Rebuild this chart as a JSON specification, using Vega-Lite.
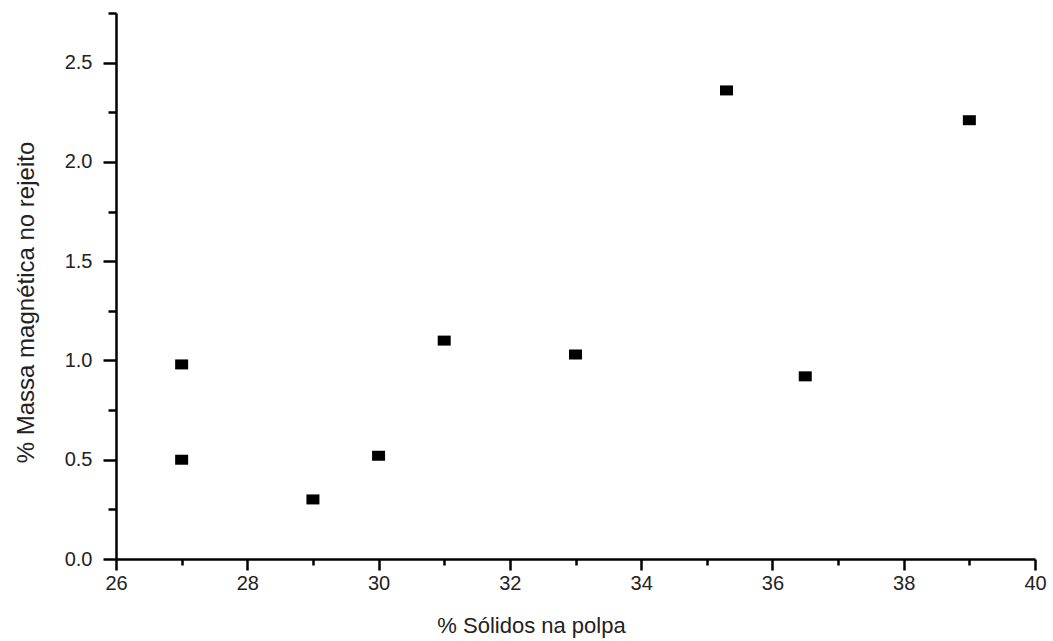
{
  "$schema": "https://vega.github.io/schema/vega-lite/v6.json",
  "autosize": {"type": "none"},
  "padding": {"left": 116, "top": 13, "right": 18, "bottom": 82},
  "width": 919,
  "height": 546,
  "background": "white",
  "config": {"view": {"stroke": null}, "font": "Liberation Sans"},
  "data": {"values": [
    {"solidos": 27, "massa": 0.98},
    {"solidos": 27, "massa": 0.50},
    {"solidos": 29, "massa": 0.30},
    {"solidos": 30, "massa": 0.52},
    {"solidos": 31, "massa": 1.10},
    {"solidos": 33, "massa": 1.03},
    {"solidos": 35.3, "massa": 2.36},
    {"solidos": 36.5, "massa": 0.92},
    {"solidos": 39, "massa": 2.21}
  ]},
  "mark": {"type": "point", "filled": true, "color": "black", "opacity": 1, "size": 100,
           "shape": "M-1.3,-1H1.3V1H-1.3Z"},
  "encoding": {
    "x": {"field": "solidos", "type": "quantitative",
          "scale": {"domain": [26, 40], "nice": false, "zero": false},
          "axis": {
            "title": "% Sólidos na polpa",
            "values": [26,27,28,29,30,31,32,33,34,35,36,37,38,39,40],
            "labelExpr": "datum.value % 2 === 0 ? datum.label : ''",
            "grid": false,
            "domainColor": "black", "domainWidth": 2.5,
            "tickColor": "black", "tickWidth": 2.5,
            "tickSize": {"condition": {"test": "datum.value % 2 === 0", "value": 11}, "value": 6},
            "labelFont": "Liberation Sans", "labelFontSize": 20, "labelColor": "#222",
            "labelPadding": 3, "labelOverlap": false, "labelFlush": false,
            "titleFont": "Liberation Sans", "titleFontSize": 22, "titleFontWeight": "normal", "titleColor": "#222",
            "titleX": 415, "titleY": 66, "titleBaseline": "middle", "titleAlign": "center", "titleAnchor": null
          }},
    "y": {"field": "massa", "type": "quantitative",
          "scale": {"domain": [0, 2.75], "nice": false},
          "axis": {
            "title": "% Massa magnética no rejeito",
            "values": [0,0.25,0.5,0.75,1,1.25,1.5,1.75,2,2.25,2.5,2.75],
            "format": ".1f",
            "labelExpr": "(datum.value * 4) % 2 === 0 && datum.value < 2.7 ? datum.label : ''",
            "grid": false,
            "domainColor": "black", "domainWidth": 2.5,
            "tickColor": "black", "tickWidth": 2.5,
            "tickSize": {"condition": {"test": "(datum.value * 4) % 2 === 0", "value": 13}, "value": 8},
            "labelFont": "Liberation Sans", "labelFontSize": 20, "labelColor": "#222",
            "labelPadding": 11, "labelOverlap": false, "labelFlush": false,
            "titleFont": "Liberation Sans", "titleFontSize": 24, "titleFontWeight": "normal", "titleColor": "#222",
            "titleX": -90, "titleY": 289, "titleAngle": -90, "titleBaseline": "middle", "titleAlign": "center", "titleAnchor": null
          }}
  }
}
